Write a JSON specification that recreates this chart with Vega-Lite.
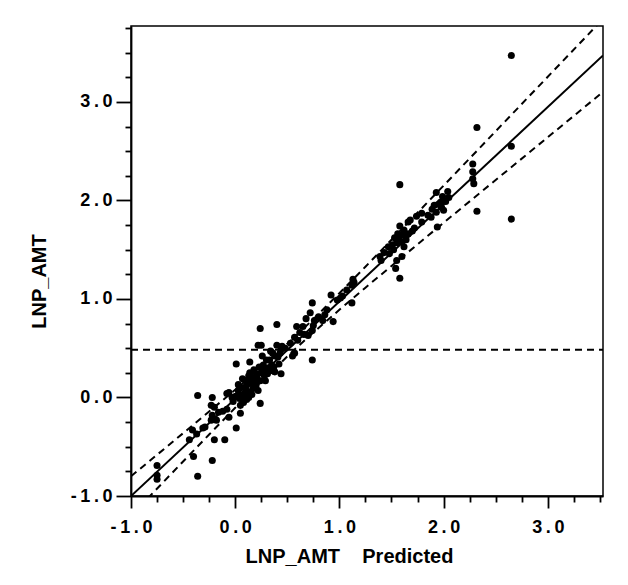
{
  "$schema": "https://vega.github.io/schema/vega-lite/v6.json",
  "width": 472,
  "height": 470,
  "autosize": {"type": "none"},
  "padding": {"left": 131, "top": 26, "right": 25, "bottom": 89},
  "background": "white",
  "config": {
    "view": {"stroke": "black", "strokeWidth": 1.5},
    "axis": {
      "grid": false,
      "domainColor": "black",
      "domainWidth": 1.8,
      "tickColor": "black",
      "tickWidth": 1.8,
      "labelColor": "black",
      "titleColor": "black",
      "labelFont": "Liberation Sans",
      "titleFont": "Liberation Sans",
      "labelFontSize": 18,
      "labelFontWeight": "bold",
      "titleFontSize": 20,
      "titleFontWeight": "bold",
      "labelOverlap": false,
      "labelFlush": false
    }
  },
  "datasets": {
    "curves": [
      {"pred": -1, "actual": -1, "band": "fit"},
      {"pred": 3.53, "actual": 3.471, "band": "fit"},
      {"pred": -1, "actual": -0.8, "band": "upper"},
      {"pred": -0.5, "actual": -0.363, "band": "upper"},
      {"pred": -0.25, "actual": -0.143, "band": "upper"},
      {"pred": 0, "actual": 0.079, "band": "upper"},
      {"pred": 0.25, "actual": 0.307, "band": "upper"},
      {"pred": 0.55, "actual": 0.593, "band": "upper"},
      {"pred": 0.75, "actual": 0.795, "band": "upper"},
      {"pred": 1.0, "actual": 1.058, "band": "upper"},
      {"pred": 1.25, "actual": 1.327, "band": "upper"},
      {"pred": 1.5, "actual": 1.6, "band": "upper"},
      {"pred": 2.0, "actual": 2.15, "band": "upper"},
      {"pred": 2.5, "actual": 2.702, "band": "upper"},
      {"pred": 3.0, "actual": 3.255, "band": "upper"},
      {"pred": 3.53, "actual": 3.841, "band": "upper"},
      {"pred": -1, "actual": -1.2, "band": "lower"},
      {"pred": -0.5, "actual": -0.65, "band": "lower"},
      {"pred": -0.25, "actual": -0.376, "band": "lower"},
      {"pred": 0, "actual": -0.105, "band": "lower"},
      {"pred": 0.25, "actual": 0.161, "band": "lower"},
      {"pred": 0.55, "actual": 0.467, "band": "lower"},
      {"pred": 0.75, "actual": 0.66, "band": "lower"},
      {"pred": 1.0, "actual": 0.89, "band": "lower"},
      {"pred": 1.25, "actual": 1.114, "band": "lower"},
      {"pred": 1.5, "actual": 1.335, "band": "lower"},
      {"pred": 2.0, "actual": 1.773, "band": "lower"},
      {"pred": 2.5, "actual": 2.207, "band": "lower"},
      {"pred": 3.0, "actual": 2.641, "band": "lower"},
      {"pred": 3.53, "actual": 3.101, "band": "lower"},
      {"pred": -1, "actual": 0.485, "band": "mean"},
      {"pred": 3.53, "actual": 0.485, "band": "mean"}
    ],
    "points": [
      {"pred": 2.65, "actual": 3.47}, {"pred": 2.32, "actual": 2.74}, {"pred": 2.65, "actual": 2.55},
      {"pred": 2.28, "actual": 2.37}, {"pred": 2.28, "actual": 2.29}, {"pred": 2.28, "actual": 2.22},
      {"pred": 2.29, "actual": 2.17}, {"pred": 2.32, "actual": 1.89}, {"pred": 2.65, "actual": 1.81},
      {"pred": 1.58, "actual": 2.16}, {"pred": 1.58, "actual": 1.21}, {"pred": 1.54, "actual": 1.31},
      {"pred": 1.93, "actual": 2.08}, {"pred": 1.99, "actual": 2.04}, {"pred": 2.04, "actual": 2.09},
      {"pred": 2.05, "actual": 2.03}, {"pred": 2.02, "actual": 1.99}, {"pred": 1.97, "actual": 1.98},
      {"pred": 1.95, "actual": 1.96}, {"pred": 1.91, "actual": 1.95}, {"pred": 1.89, "actual": 1.91},
      {"pred": 1.94, "actual": 1.73}, {"pred": 1.85, "actual": 1.85}, {"pred": 1.79, "actual": 1.78},
      {"pred": 1.74, "actual": 1.84}, {"pred": 1.79, "actual": 1.87}, {"pred": 1.88, "actual": 1.83},
      {"pred": 1.98, "actual": 1.93}, {"pred": 2.0, "actual": 1.9}, {"pred": 1.93, "actual": 1.88},
      {"pred": 1.58, "actual": 1.74}, {"pred": 1.62, "actual": 1.7}, {"pred": 1.56, "actual": 1.66},
      {"pred": 1.53, "actual": 1.62}, {"pred": 1.6, "actual": 1.58}, {"pred": 1.51, "actual": 1.55},
      {"pred": 1.47, "actual": 1.53}, {"pred": 1.43, "actual": 1.47}, {"pred": 1.39, "actual": 1.43},
      {"pred": 1.64, "actual": 1.6}, {"pred": 1.66, "actual": 1.78}, {"pred": 1.68, "actual": 1.8},
      {"pred": 1.6, "actual": 1.43}, {"pred": 1.55, "actual": 1.39}, {"pred": 1.4, "actual": 1.39},
      {"pred": 1.62, "actual": 1.53}, {"pred": 1.57, "actual": 1.6}, {"pred": 1.55, "actual": 1.57},
      {"pred": 1.59, "actual": 1.65}, {"pred": 1.63, "actual": 1.64}, {"pred": 1.52, "actual": 1.5},
      {"pred": 1.48, "actual": 1.46}, {"pred": 1.7, "actual": 1.69}, {"pred": 1.72, "actual": 1.72},
      {"pred": 1.66, "actual": 1.66},
      {"pred": 1.13, "actual": 1.2}, {"pred": 1.12, "actual": 1.14}, {"pred": 1.07, "actual": 1.09},
      {"pred": 1.01, "actual": 1.01}, {"pred": 1.12, "actual": 0.96}, {"pred": 1.03, "actual": 1.03},
      {"pred": 0.92, "actual": 1.04}, {"pred": 0.94, "actual": 0.77}, {"pred": 1.14, "actual": 1.17},
      {"pred": 0.98, "actual": 0.99},
      {"pred": 0.74, "actual": 0.96}, {"pred": 0.72, "actual": 0.86}, {"pred": 0.68, "actual": 0.8},
      {"pred": 0.76, "actual": 0.78}, {"pred": 0.65, "actual": 0.72}, {"pred": 0.59, "actual": 0.72},
      {"pred": 0.74, "actual": 0.68}, {"pred": 0.7, "actual": 0.63}, {"pred": 0.57, "actual": 0.61},
      {"pred": 0.53, "actual": 0.55}, {"pred": 0.57, "actual": 0.45}, {"pred": 0.55, "actual": 0.42},
      {"pred": 0.74, "actual": 0.38}, {"pred": 0.86, "actual": 0.84}, {"pred": 0.88, "actual": 0.89},
      {"pred": 0.84, "actual": 0.78}, {"pred": 0.8, "actual": 0.82}, {"pred": 0.62, "actual": 0.66},
      {"pred": 0.66, "actual": 0.64}, {"pred": 0.6, "actual": 0.58}, {"pred": 0.75, "actual": 0.73},
      {"pred": 0.4, "actual": 0.74}, {"pred": 0.24, "actual": 0.7}, {"pred": 0.22, "actual": 0.53},
      {"pred": 0.4, "actual": 0.53}, {"pred": 0.44, "actual": 0.49}, {"pred": 0.34, "actual": 0.47},
      {"pred": 0.38, "actual": 0.42}, {"pred": 0.26, "actual": 0.42}, {"pred": 0.3, "actual": 0.38},
      {"pred": 0.42, "actual": 0.34}, {"pred": 0.44, "actual": 0.24}, {"pred": 0.38, "actual": 0.26},
      {"pred": 0.32, "actual": 0.3}, {"pred": 0.26, "actual": 0.28}, {"pred": 0.14, "actual": 0.36},
      {"pred": 0.01, "actual": 0.34}, {"pred": 0.21, "actual": 0.24}, {"pred": 0.13, "actual": 0.22},
      {"pred": 0.07, "actual": 0.19}, {"pred": 0.19, "actual": 0.17}, {"pred": 0.24, "actual": 0.17},
      {"pred": 0.03, "actual": 0.13}, {"pred": 0.11, "actual": 0.13}, {"pred": 0.17, "actual": 0.09},
      {"pred": 0.22, "actual": 0.07}, {"pred": 0.03, "actual": 0.07}, {"pred": -0.06, "actual": 0.05},
      {"pred": 0.0, "actual": 0.01}, {"pred": 0.07, "actual": 0.01}, {"pred": 0.11, "actual": -0.02},
      {"pred": -0.02, "actual": -0.04}, {"pred": 0.24, "actual": -0.06}, {"pred": 0.05, "actual": -0.08},
      {"pred": -0.08, "actual": -0.12}, {"pred": -0.12, "actual": -0.14}, {"pred": -0.06, "actual": -0.2},
      {"pred": 0.05, "actual": -0.16}, {"pred": 0.01, "actual": -0.31},
      {"pred": 0.1, "actual": 0.1}, {"pred": 0.12, "actual": 0.06}, {"pred": 0.15, "actual": 0.15},
      {"pred": 0.18, "actual": 0.2}, {"pred": 0.2, "actual": 0.12}, {"pred": 0.16, "actual": 0.03},
      {"pred": 0.09, "actual": 0.04}, {"pred": 0.06, "actual": 0.1}, {"pred": 0.14, "actual": 0.25},
      {"pred": 0.28, "actual": 0.22}, {"pred": 0.3, "actual": 0.28}, {"pred": 0.35, "actual": 0.33},
      {"pred": 0.33, "actual": 0.38}, {"pred": 0.27, "actual": 0.33}, {"pred": 0.36, "actual": 0.27},
      {"pred": 0.18, "actual": 0.28}, {"pred": 0.23, "actual": 0.31}, {"pred": 0.04, "actual": -0.01},
      {"pred": 0.08, "actual": -0.05}, {"pred": 0.13, "actual": 0.0}, {"pred": 0.19, "actual": 0.11},
      {"pred": 0.25, "actual": 0.25}, {"pred": 0.29, "actual": 0.17}, {"pred": 0.02, "actual": 0.02},
      {"pred": -0.03, "actual": 0.0}, {"pred": 0.12, "actual": 0.18}, {"pred": 0.17, "actual": 0.14},
      {"pred": 0.21, "actual": 0.19}, {"pred": 0.31, "actual": 0.24}, {"pred": 0.37, "actual": 0.31},
      {"pred": 0.41, "actual": 0.41}, {"pred": 0.43, "actual": 0.45}, {"pred": 0.36, "actual": 0.45},
      {"pred": 0.45, "actual": 0.52}, {"pred": 0.48, "actual": 0.5}, {"pred": 0.25, "actual": 0.53},
      {"pred": -0.36, "actual": 0.02}, {"pred": -0.22, "actual": 0.0}, {"pred": -0.2, "actual": -0.1},
      {"pred": -0.22, "actual": -0.18}, {"pred": -0.23, "actual": -0.23}, {"pred": -0.18, "actual": -0.23},
      {"pred": -0.2, "actual": -0.43}, {"pred": -0.1, "actual": -0.43}, {"pred": -0.31, "actual": -0.31},
      {"pred": -0.37, "actual": -0.37}, {"pred": -0.41, "actual": -0.33}, {"pred": -0.44, "actual": -0.43},
      {"pred": -0.4, "actual": -0.6}, {"pred": -0.22, "actual": -0.64}, {"pred": -0.36, "actual": -0.8},
      {"pred": -0.75, "actual": -0.69}, {"pred": -0.75, "actual": -0.79}, {"pred": -0.75, "actual": -0.83},
      {"pred": -0.29, "actual": -0.3}, {"pred": -0.16, "actual": -0.15}, {"pred": -0.23, "actual": -0.08},
      {"pred": -0.08, "actual": 0.04}
    ]
  },
  "encoding": {
    "x": {
      "field": "pred",
      "type": "quantitative",
      "scale": {"domain": [-1, 3.53], "nice": false, "zero": false},
      "axis": {
        "title": "LNP_AMT\u00a0\u00a0\u00a0\u00a0Predicted",
        "values": [-1, -0.75, -0.5, -0.25, 0, 0.25, 0.5, 0.75, 1, 1.25, 1.5, 1.75, 2, 2.25, 2.5, 2.75, 3, 3.25, 3.5],
        "labelExpr": "datum.value % 1 === 0 ? join(split(replace(format(datum.value, '.1f'), '\u2212', '-'), ''), '\u2009') : ''",
        "tickSize": {"condition": {"test": "datum.value % 1 === 0", "value": 12}, "value": 6},
        "labelPadding": 10,
        "titleX": 218,
        "titleY": 66,
        "titleBaseline": "alphabetic",
        "titleAnchor": "middle",
        "titleAlign": "center"
      }
    },
    "y": {
      "field": "actual",
      "type": "quantitative",
      "scale": {"domain": [-1, 3.77], "nice": false, "zero": false},
      "axis": {
        "title": "LNP_AMT",
        "values": [-1, -0.75, -0.5, -0.25, 0, 0.25, 0.5, 0.75, 1, 1.25, 1.5, 1.75, 2, 2.25, 2.5, 2.75, 3, 3.25, 3.5, 3.75],
        "labelExpr": "datum.value % 1 === 0 ? join(split(replace(format(datum.value, '.1f'), '\u2212', '-'), ''), '\u2009') : ''",
        "tickSize": {"condition": {"test": "datum.value % 1 === 0", "value": 15}, "value": 6},
        "labelPadding": 4,
        "titleX": -86,
        "titleY": 255,
        "titleBaseline": "alphabetic",
        "titleAlign": "center",
        "titleAngle": 270
      }
    }
  },
  "layer": [
    {
      "data": {"name": "curves"},
      "transform": [{"filter": "datum.band === 'fit'"}],
      "mark": {"type": "line", "color": "black", "strokeWidth": 2, "clip": true}
    },
    {
      "data": {"name": "curves"},
      "transform": [{"filter": "datum.band !== 'fit'"}],
      "mark": {"type": "line", "color": "black", "strokeWidth": 2, "strokeDash": [7, 5], "clip": true},
      "encoding": {"detail": {"field": "band"}}
    },
    {
      "data": {"name": "points"},
      "mark": {"type": "circle", "color": "black", "opacity": 1, "size": 50}
    }
  ]
}
